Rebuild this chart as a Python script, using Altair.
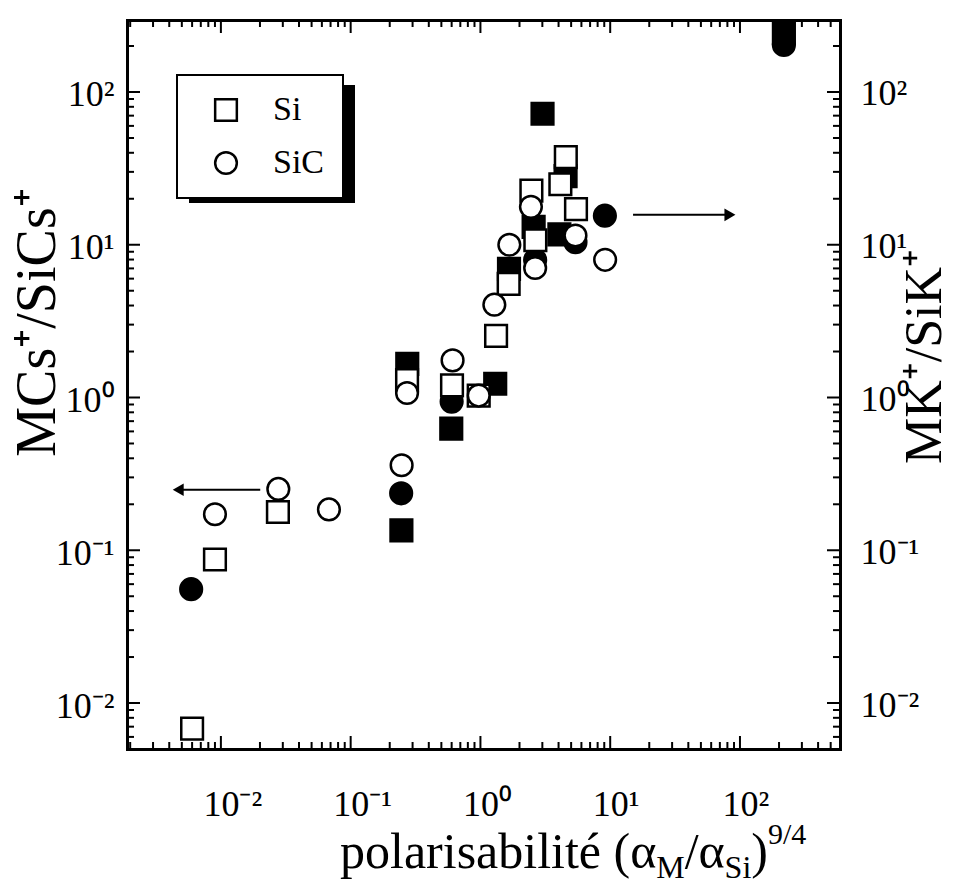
import altair as alt
import pandas as pd

FONT = "Liberation Serif"

# ---------------- values ----------------
# filled symbols -> MK+/SiK+ (right axis), open symbols -> MCs+/SiCs+ (left axis)
si_k_x = [3.01, 4.53, 2.57, 4.06, 1.66, 1.30, 0.596, 0.273, 0.246, 218]
si_k_y = [72, 28.1, 13.1, 11.7, 6.96, 1.23, 0.625, 1.66, 0.135, 243]
sic_k_x = [9.10, 2.64, 5.40, 0.60, 0.245, 0.0059, 218]
sic_k_y = [15.5, 7.94, 10.4, 0.94, 0.236, 0.0556, 203]
si_cs_x = [4.55, 4.13, 2.47, 5.45, 2.65, 1.65, 1.32, 0.97, 0.604, 0.272, 0.0275, 0.0090, 0.0060]
si_cs_y = [37.5, 24.9, 22.6, 17.1, 10.7, 5.55, 2.53, 1.03, 1.20, 1.30, 0.178, 0.087, 0.0068]
sic_cs_x = [2.45, 2.64, 5.40, 1.67, 1.28, 9.14, 0.97, 0.61, 0.272, 0.247, 0.0277, 0.068, 0.0090]
sic_cs_y = [17.7, 7.04, 11.5, 10.0, 4.05, 7.97, 1.03, 1.75, 1.07, 0.36, 0.252, 0.185, 0.172]

materials = ["Si", "SiC"]
ions = ["Cs", "K"]

# arrows (data coordinates)
arrow_x_from = [0.0201, 15.0]
arrow_x_to = [0.00469, 83.7]
arrow_y = [0.249, 15.7]
arrow_dir = ["left", "right"]

# axes
x_domain = [0.00189, 590]
y_domain = [0.005, 296]
major_ticks = [0.01, 0.1, 1, 10, 100]
major_labels = ["10⁻²", "10⁻¹", "10⁰", "10¹", "10²"]
x_minor = [0.002, 0.003, 0.004, 0.005, 0.006, 0.007, 0.008, 0.009,
           0.02, 0.03, 0.04, 0.05, 0.06, 0.07, 0.08, 0.09,
           0.2, 0.3, 0.4, 0.5, 0.6, 0.7, 0.8, 0.9,
           2, 3, 4, 5, 6, 7, 8, 9,
           20, 30, 40, 50, 60, 70, 80, 90,
           200, 300, 400, 500]
y_minor = [0.006, 0.007, 0.008, 0.009,
           0.02, 0.03, 0.04, 0.05, 0.06, 0.07, 0.08, 0.09,
           0.2, 0.3, 0.4, 0.5, 0.6, 0.7, 0.8, 0.9,
           2, 3, 4, 5, 6, 7, 8, 9,
           20, 30, 40, 50, 60, 70, 80, 90,
           200]

# ---------------- tables ----------------
rows = []
for xs, ys, mat, ion in [(si_k_x, si_k_y, "Si", "K"), (sic_k_x, sic_k_y, "SiC", "K"),
                         (si_cs_x, si_cs_y, "Si", "Cs"), (sic_cs_x, sic_cs_y, "SiC", "Cs")]:
    for a, b in zip(xs, ys):
        rows.append({"x": a, "y": b, "material": mat, "ion": ion})
df = pd.DataFrame(rows)
df["order"] = range(len(df))

arrows = pd.DataFrame({"x": arrow_x_from, "x2": arrow_x_to, "y": arrow_y, "dir": arrow_dir})

xticks_df = pd.DataFrame({"v": major_ticks + x_minor,
                          "kind": ["major"] * len(major_ticks) + ["minor"] * len(x_minor)})
yticks_df = pd.DataFrame({"v": major_ticks + y_minor,
                          "kind": ["major"] * len(major_ticks) + ["minor"] * len(y_minor)})

W, H = 713, 729
MAJOR_LEN, MINOR_LEN = 13, 7
xscale = alt.Scale(type="log", domain=x_domain, nice=False)
yscale = alt.Scale(type="log", domain=y_domain, nice=False)


def label_expr(vals, labels):
    expr = f"'{labels[-1]}'"
    for v, l in reversed(list(zip(vals[:-1], labels[:-1]))):
        expr = f"datum.value < {v * 3.1623:.6g} ? '{l}' : " + expr
    return expr


LBL = label_expr(major_ticks, major_labels)
common = dict(grid=False, ticks=False, domainColor="black", domainWidth=3,
              domainCap="square", labelFont=FONT, labelColor="black", labelFontSize=36,
              labelOverlap=False, labelFlush=False, titleFont=FONT, titleColor="black",
              titleFontWeight="normal", values=major_ticks, domain=True)

ax_xb = alt.Axis(orient="bottom", labels=True, labelExpr=LBL, labelPadding=38,
                 labelAlign="left", labelOffset=-18, labelBaseline="top", title=None, **common)
ax_xt = alt.Axis(orient="top", labels=False, title=None, **common)
ax_yl = alt.Axis(orient="left", labels=True, labelExpr=LBL, labelPadding=13, labelAlign="right",
                 labelBaseline="middle", labelOffset=3,
                 title="MCs⁺/SiCs⁺", titleFontSize=56, titleAngle=270, titleX=-73, titleY=302,
                 titleBaseline="alphabetic", titleAlign="center", **common)
ax_yr = alt.Axis(orient="right", labels=True, labelExpr=LBL, labelPadding=20, labelAlign="left",
                 labelBaseline="middle", labelOffset=2,
                 title="MK⁺/SiK⁺", titleFontSize=52, titleAngle=270, titleX=100, titleY=336,
                 titleBaseline="alphabetic", titleAlign="center", **common)


def carrier(xaxis, yaxis):
    return alt.Chart(df).mark_point(opacity=0).encode(
        x=alt.X("x:Q", scale=xscale, axis=xaxis),
        y=alt.Y("y:Q", scale=yscale, axis=yaxis),
    )


frame = [carrier(ax_xb, ax_yl), carrier(ax_xt, ax_yr)]

# inward-pointing ticks, positioned by the log scales
tick_layers = []
for kind, ln in [("major", MAJOR_LEN), ("minor", MINOR_LEN)]:
    flt = f"datum.kind == '{kind}'"
    xb = alt.Chart(xticks_df).transform_filter(flt).mark_rule(color="black", strokeWidth=2)
    tick_layers.append(xb.encode(x=alt.X("v:Q", scale=xscale, axis=None),
                                 y=alt.value(H), y2=alt.value(H - ln)))
    tick_layers.append(xb.encode(x=alt.X("v:Q", scale=xscale, axis=None),
                                 y=alt.value(0), y2=alt.value(ln)))
    yb = alt.Chart(yticks_df).transform_filter(flt).mark_rule(color="black", strokeWidth=2)
    tick_layers.append(yb.encode(y=alt.Y("v:Q", scale=yscale, axis=None),
                                 x=alt.value(0), x2=alt.value(ln)))
    tick_layers.append(yb.encode(y=alt.Y("v:Q", scale=yscale, axis=None),
                                 x=alt.value(W), x2=alt.value(W - ln)))

one = pd.DataFrame({"k": [0]})

# legend shadow
shadow = alt.Chart(one).mark_rect(color="black").encode(
    x=alt.value(62), x2=alt.value(228), y=alt.value(65), y2=alt.value(183))

arrow_lines = alt.Chart(arrows).mark_rule(color="black", strokeWidth=2).encode(
    x=alt.X("x:Q", scale=xscale, axis=None),
    x2="x2:Q",
    y=alt.Y("y:Q", scale=yscale, axis=None),
)
head_left = alt.Chart(arrows).transform_filter("datum.dir == 'left'").mark_point(
    shape="triangle-left", filled=True, color="black", opacity=1, size=160).encode(
    x=alt.X("x2:Q", scale=xscale, axis=None), y=alt.Y("y:Q", scale=yscale, axis=None))
head_right = alt.Chart(arrows).transform_filter("datum.dir == 'right'").mark_point(
    shape="triangle-right", filled=True, color="black", opacity=1, size=160).encode(
    x=alt.X("x2:Q", scale=xscale, axis=None), y=alt.Y("y:Q", scale=yscale, axis=None))

points = alt.Chart(df).mark_point(filled=True, size=470, stroke="black", strokeWidth=2.5,
                                  opacity=1).encode(
    x=alt.X("x:Q", scale=xscale, axis=None),
    y=alt.Y("y:Q", scale=yscale, axis=None),
    shape=alt.Shape("material:N", scale=alt.Scale(domain=materials, range=["square", "circle"]),
                    legend=alt.Legend(title=None, orient="none", legendX=50, legendY=55,
                                      fillColor="white", strokeColor="black", padding=18,
                                      rowPadding=19, labelFont=FONT, labelFontSize=34,
                                      labelColor="black", labelOffset=30, symbolOffset=14,
                                      symbolSize=470, symbolStrokeWidth=2.5,
                                      symbolFillColor="white", symbolStrokeColor="black")),
    fill=alt.Fill("ion:N", scale=alt.Scale(domain=ions, range=["white", "black"]), legend=None),
    order=alt.Order("order:Q"),
)

# x-axis title composed of pieces (sub/superscripts)
pieces = [("polarisabilité (", 50, 0), ("α", 50, 0), ("M", 32, 10), ("/", 50, 0),
          ("α", 50, 0), ("Si", 32, 10), (")", 50, 0), ("9/4", 30, -24)]
adv = {"p": .5, "o": .5, "l": .278, "a": .444, "r": .333, "i": .278, "s": .389, "b": .5,
       "t": .278, "é": .444, " ": .25, "(": .333, ")": .333, "α": .52, "M": .889, "/": .278,
       "S": .556, "9": .5, "4": .5}
title_layers = []
cx = 213
base_y = 848
for txt, fs, dy in pieces:
    title_layers.append(alt.Chart(one).mark_text(
        font=FONT, fontSize=fs, align="left", baseline="alphabetic", color="black").encode(
        x=alt.value(cx), y=alt.value(base_y + dy), text=alt.value(txt)))
    cx += sum(adv.get(c, .5) for c in txt) * fs

chart = alt.layer(shadow, *frame, *tick_layers, arrow_lines, head_left, head_right, points,
                  *title_layers).resolve_axis(x="independent", y="independent").properties(
    width=W, height=H,
    autosize=alt.AutoSizeParams(type="none"),
    padding={"left": 127, "top": 20, "right": 113, "bottom": 147},
    background="white",
).configure_view(stroke=None).configure_legend(strokeWidth=2)

chart.save("out.html", embed_options={"renderer": "svg", "actions": False})
